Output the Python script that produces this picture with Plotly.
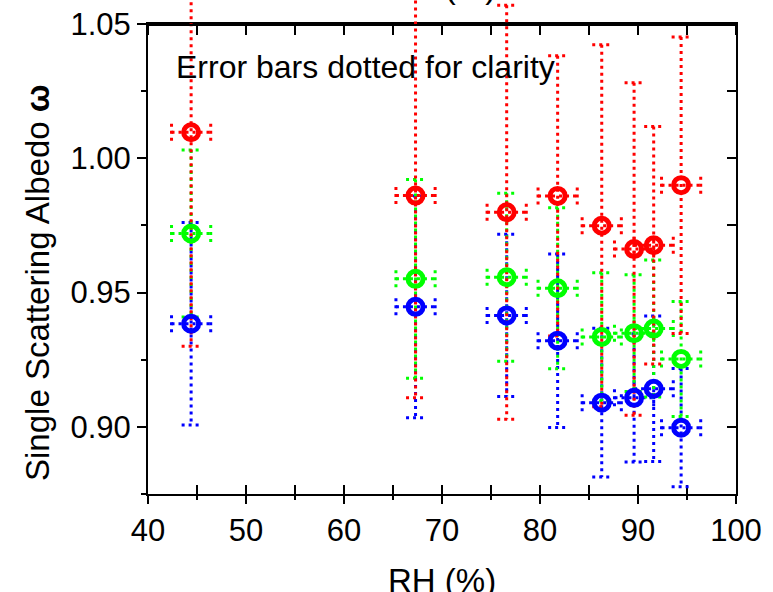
import plotly.graph_objects as go

# ---- data ----
rh = [44.4, 67.3, 76.6, 81.8, 86.3, 89.6, 91.6, 94.4]
rh_err = [2.0, 2.0, 2.0, 2.0, 2.0, 2.0, 2.0, 2.0]

red_vals = [1.0097, 0.9861, 0.9799, 0.9860, 0.9749, 0.9662, 0.9676, 0.9900]
red_err = [0.0797, 0.0753, 0.0771, 0.0522, 0.0674, 0.0619, 0.0442, 0.0552]
green_vals = [0.9720, 0.9551, 0.9557, 0.9516, 0.9335, 0.9349, 0.9366, 0.9253]
green_err = [0.0311, 0.0370, 0.0313, 0.0300, 0.0239, 0.0217, 0.0255, 0.0214]
blue_vals = [0.9384, 0.9447, 0.9415, 0.9321, 0.9090, 0.9108, 0.9142, 0.8997]
blue_err = [0.0377, 0.0413, 0.0302, 0.0323, 0.0277, 0.0239, 0.0271, 0.0220]

x_range = [40, 100]
y_range = [0.875, 1.05]
x_tick_labels = ["40", "50", "60", "70", "80", "90", "100"]

# ---- layout geometry ----
W, H = 773, 592
ML, MR, MT, MB = 148, 37, 0, 98
plot_w = W - ML - MR
plot_h = H - MT - MB
axis_h = 470  # pixel height of the visible y axis
dom_top = axis_h / plot_h
y_per_px = (y_range[1] - y_range[0]) / axis_h
x_per_px = (x_range[1] - x_range[0]) / plot_w
y_big_range = [y_range[0], y_range[0] + y_per_px * plot_h]

cap_dx = 9.5 * x_per_px
cap_dy = 8.5 * y_per_px

FONT = "Liberation Sans, Arial, sans-serif"
DASH = "3px,4px"


def err_path(xs, ys, ye, xe):
    px, py = [], []
    for x, y, e, ex in zip(xs, ys, ye, xe):
        px += [x, x, None]; py += [y + e, y - e, None]
        px += [x - cap_dx, x + cap_dx, None]; py += [y + e, y + e, None]
        px += [x - cap_dx, x + cap_dx, None]; py += [y - e, y - e, None]
        px += [x - ex, x + ex, None]; py += [y, y, None]
        px += [x - ex, x - ex, None]; py += [y - cap_dy, y + cap_dy, None]
        px += [x + ex, x + ex, None]; py += [y - cap_dy, y + cap_dy, None]
    return px, py


series = [
    ("blue", blue_vals, blue_err, "#0000FF"),
    ("green", green_vals, green_err, "#00FF00"),
    ("red", red_vals, red_err, "#FF0000"),
]

fig = go.Figure()
for name, vals, errs, col in series:
    ex, ey = err_path(rh, vals, errs, rh_err)
    fig.add_trace(go.Scatter(x=ex, y=ey, mode="lines", xaxis="x4", yaxis="y3",
                             line=dict(color=col, width=3, dash=DASH),
                             showlegend=False, hoverinfo="skip"))
for name, vals, errs, col in series:
    fig.add_trace(go.Scatter(x=rh, y=vals, mode="markers", xaxis="x4", yaxis="y3",
                             marker=dict(symbol="circle-open", size=15, color=col,
                                         line=dict(width=5, color=col)),
                             showlegend=False, name=name))

# invisible helper traces so that the frame axes get drawn
for xa, ya in [("x", "y"), ("x", "y2"), ("x5", "y5")]:
    fig.add_trace(go.Scatter(x=[x_range[0]], y=[y_range[0]], mode="markers",
                             xaxis=xa, yaxis=ya, marker=dict(opacity=0),
                             showlegend=False, hoverinfo="skip"))

tickfont = dict(family=FONT, size=31, color="black")
common = dict(showgrid=False, zeroline=False, automargin=False)
tick_in = dict(tickmode="linear", tick0=40, dtick=10, ticklen=9, tickwidth=1.5,
               tickcolor="black")
minor_in = dict(dtick=5, tick0=40, ticklen=9, tickwidth=1.5, tickcolor="black",
                showgrid=False)

fig.update_layout(
    width=W, height=H,
    margin=dict(l=ML, r=MR, t=MT, b=MB, pad=0, autoexpand=False),
    paper_bgcolor="white", plot_bgcolor="rgba(0,0,0,0)",
    showlegend=False,
    # frame x axis: inward ticks at the bottom
    xaxis=dict(domain=[0, 1], range=x_range, anchor="y",
               showticklabels=False, mirror="ticks",
               showline=True, linecolor="black", linewidth=2,
               ticks="inside", minor=dict(ticks="inside", **minor_in),
               **tick_in, **common),
    # labelled bottom axis with outward ticks (data subplot)
    xaxis4=dict(domain=[0, 1], range=x_range, anchor="y3", side="bottom",
                tickmode="array", tickvals=[float(t) for t in x_tick_labels],
                ticktext=x_tick_labels,
                showline=True, linecolor="black", linewidth=2,
                ticks="outside", ticklen=8, tickwidth=1.5, tickcolor="black",
                minor=dict(dtick=5, tick0=40, ticks="outside", ticklen=4, tickwidth=1.5,
                           tickcolor="black", showgrid=False),
                tickfont=tickfont, **common),
    # top frame: bottom axis of a thin strip above the plot, ticks pointing down
    xaxis5=dict(domain=[0, 1], range=x_range, anchor="y5", side="bottom",
                showticklabels=False,
                showline=True, linecolor="black", linewidth=2,
                ticks="outside", minor=dict(ticks="outside", **minor_in),
                **tick_in, **common),
    yaxis5=dict(domain=[dom_top, 1], range=[0, 1], anchor="x5", visible=False, **common),
    yaxis=dict(domain=[0, dom_top], range=y_range, anchor="x",
               tickmode="linear", tick0=0.9, dtick=0.05, tickformat=".2f",
               showline=True, linecolor="black", linewidth=2,
               ticks="outside", ticklen=9, tickwidth=1.5, tickcolor="black",
               minor=dict(dtick=0.025, tick0=0.875, ticks="outside", ticklen=5,
                          tickwidth=1.5, tickcolor="black", showgrid=False),
               tickfont=tickfont, **common),
    yaxis2=dict(overlaying="y", side="right", anchor="x", range=y_range,
                showticklabels=False,
                showline=True, linecolor="black", linewidth=2,
                tickmode="linear", tick0=0.9, dtick=0.05,
                ticks="inside", ticklen=9, tickwidth=1.5, tickcolor="black",
                minor=dict(dtick=0.025, tick0=0.875, ticks="inside", ticklen=9,
                           tickwidth=1.5, tickcolor="black", showgrid=False), **common),
    yaxis3=dict(domain=[0, 1], range=y_big_range, anchor="x4", visible=False, **common),
)


def py(p):
    return (plot_h + MT - p) / plot_h


annos = [
    dict(text="Error bars dotted for clarity", x=(174 - ML) / plot_w, y=py(67),
         xanchor="left", yanchor="middle", size=32, angle=0),
    dict(text="RH (%)", x=0.5, y=py(580), xanchor="center", yanchor="middle", size=33, angle=0),
    dict(text="RH (%)", x=0.5, y=py(-14), xanchor="center", yanchor="middle", size=33, angle=0),
    dict(text="Single Scattering Albedo <b>ω</b>", x=(37 - ML) / plot_w, y=py(283),
         xanchor="center", yanchor="middle", size=33, angle=-90),
]
for a in annos:
    fig.add_annotation(text=a["text"], xref="paper", yref="paper", x=a["x"], y=a["y"],
                       xanchor=a["xanchor"], yanchor=a["yanchor"], showarrow=False,
                       textangle=a["angle"],
                       font=dict(family=FONT, size=a["size"], color="black"))

fig.write_html("out.html")
